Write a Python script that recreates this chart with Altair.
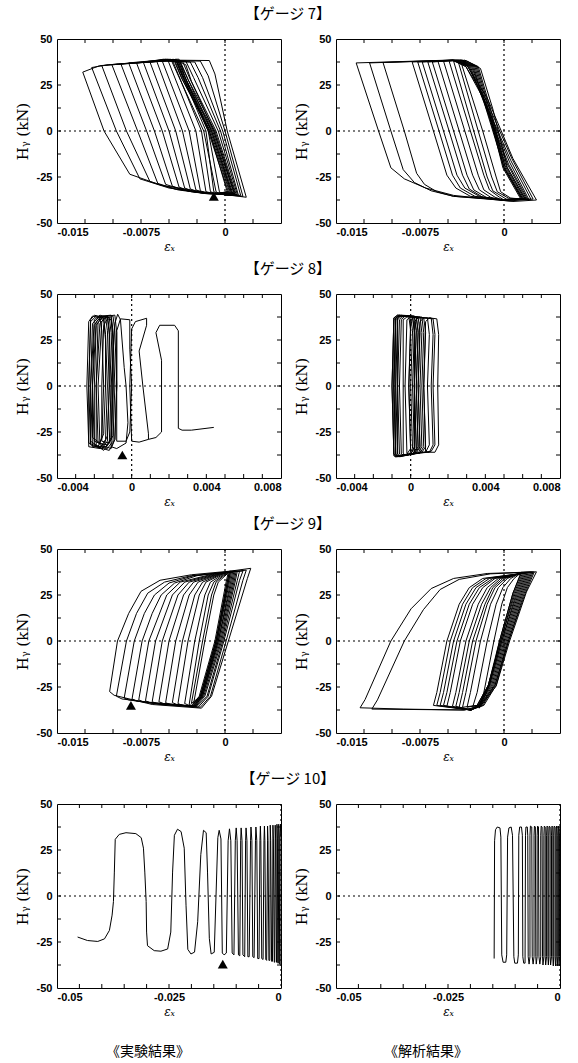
import altair as alt
import pandas as pd

# ---------------- data ----------------
# Gauge 7, experiment: loops as lists of (strain, Hy kN)
G7_EXP = [
    [(-0.0127, 32), (-0.0112, 35.5), (-0.0045, 38.5), (-0.0014, 38.3), (-0.0009, 31), (0.0002, 0), (0.0019, -36), (-0.0021, -33), (-0.0057, -29.5), (-0.0085, -23.5), (-0.0108, 0), (-0.0127, 32)],
    [(-0.0119, 34.5), (-0.0104, 36), (-0.0050, 38.3), (-0.0022, 38), (-0.0015, 30), (0.0000, 0), (0.0016, -35.5), (-0.0020, -33.5), (-0.0050, -31), (-0.0076, -26), (-0.0097, 0), (-0.0119, 34.5)],
    [(-0.0110, 35.5), (-0.0095, 36.5), (-0.0052, 38), (-0.0027, 37.5), (-0.0020, 29), (-0.0002, 0), (0.0014, -35), (-0.0020, -33.5), (-0.0045, -31.5), (-0.0067, -27.5), (-0.0088, 0), (-0.0110, 35.5)],
    [(-0.0101, 36), (-0.0090, 36.5), (-0.0055, 38), (-0.0031, 37.5), (-0.0024, 29), (-0.0004, 0), (0.0012, -35), (-0.0018, -34), (-0.0042, -32), (-0.0060, -28.5), (-0.0078, 0), (-0.0101, 36)],
    [(-0.0093, 36.5), (-0.0083, 37), (-0.0057, 38.5), (-0.0035, 38), (-0.0028, 29), (-0.0006, 0), (0.0011, -34.5), (-0.0017, -34), (-0.0038, -32), (-0.0053, -29), (-0.0070, 0), (-0.0093, 36.5)],
    [(-0.0086, 37), (-0.0077, 37.5), (-0.0058, 38.5), (-0.0038, 38), (-0.0031, 28), (-0.0008, 0), (0.0010, -34.5), (-0.0016, -34), (-0.0034, -32.5), (-0.0047, -30), (-0.0063, 0), (-0.0086, 37)],
    [(-0.0079, 37), (-0.0071, 37.5), (-0.0056, 38.5), (-0.0040, 38), (-0.0033, 28), (-0.0009, 0), (0.0009, -34), (-0.0015, -34), (-0.0030, -33), (-0.0041, -30.5), (-0.0056, 0), (-0.0079, 37)],
    [(-0.0073, 37.5), (-0.0066, 38), (-0.0055, 39), (-0.0042, 38.5), (-0.0035, 28), (-0.0010, 0), (0.0008, -34), (-0.0014, -34), (-0.0027, -33), (-0.0036, -31), (-0.0050, 0), (-0.0073, 37.5)],
    [(-0.0067, 37.5), (-0.0061, 38), (-0.0053, 39), (-0.0043, 38.5), (-0.0036, 28), (-0.0011, 0), (0.0007, -34), (-0.0013, -34), (-0.0024, -33), (-0.0031, -31.5), (-0.0044, 0), (-0.0067, 37.5)],
    [(-0.0061, 38), (-0.0056, 38.5), (-0.0051, 39), (-0.0044, 38.5), (-0.0037, 28), (-0.0012, 0), (0.0006, -33.5), (-0.0012, -34), (-0.0021, -33), (-0.0026, -32), (-0.0038, 0), (-0.0061, 38)],
    [(-0.0056, 38), (-0.0049, 39), (-0.0045, 38.5), (-0.0038, 28), (-0.0013, 0), (0.0005, -33.5), (-0.0011, -34), (-0.0018, -33.5), (-0.0022, -32.5), (-0.0032, 0), (-0.0056, 38)],
    [(-0.0051, 38.5), (-0.0046, 39), (-0.0039, 29), (-0.0014, 0), (0.0004, -33), (-0.0010, -34), (-0.0017, -33), (-0.0026, 0), (-0.0051, 38.5)],
    [(-0.0048, 38.5), (-0.0040, 37), (-0.0033, 28), (-0.0012, 0), (0.0006, -34), (-0.0004, -34.5), (-0.0008, -33), (-0.0019, 0), (-0.0048, 38.5)],
    [(-0.0047, 38.5), (-0.0044, 39), (-0.0038, 30), (-0.0015, 0), (0.0003, -33), (-0.0008, -34), (-0.0013, -33), (-0.0021, 0), (-0.0047, 38.5)],
    [(-0.0044, 39), (-0.0041, 39), (-0.0036, 30), (-0.0014, 0), (0.0002, -33), (-0.0006, -34), (-0.0010, -33), (-0.0017, 0), (-0.0044, 39)],
    [(-0.0042, 38), (-0.0035, 36), (-0.0030, 27), (-0.0010, 0), (0.0009, -35), (0.0000, -35), (-0.0005, -33), (-0.0015, 0), (-0.0042, 38)],
]

# Gauge 7, analysis
G7_ANA = [
    [(-0.0132, 37), (-0.0045, 38.6), (-0.0033, 35.5), (-0.0015, 18), (0.0008, -15), (0.0029, -37.5), (0.0008, -38.3), (-0.0045, -35), (-0.0070, -31), (-0.0089, -26), (-0.0101, -20), (-0.0112, 0), (-0.0132, 37)],
    [(-0.0120, 37), (-0.0046, 38.5), (-0.0034, 35), (-0.0016, 17), (0.0007, -15), (0.0026, -37), (0.0005, -38), (-0.0045, -35.5), (-0.0065, -32.5), (-0.0080, -28), (-0.0090, -21), (-0.0101, 0), (-0.0120, 37)],
    [(-0.0108, 37.2), (-0.0046, 38.5), (-0.0034, 35), (-0.0017, 16), (0.0006, -16), (0.0024, -37), (0.0003, -37.5), (-0.0045, -35.5), (-0.0060, -33), (-0.0071, -29), (-0.0078, -23), (-0.0089, 0), (-0.0108, 37.2)],
    [(-0.0082, 37.5), (-0.0045, 38.5), (-0.0032, 35), (-0.0017, 16), (0.0005, -17), (0.0022, -37), (0.0001, -37.5), (-0.0030, -35.5), (-0.0043, -31), (-0.0051, -24), (-0.0063, 0), (-0.0082, 37.5)],
    [(-0.0077, 37.5), (-0.0044, 38.5), (-0.0031, 35), (-0.0017, 15), (0.0004, -18), (0.0021, -37), (0.0000, -37.5), (-0.0026, -35.5), (-0.0039, -31), (-0.0046, -24), (-0.0058, 0), (-0.0077, 37.5)],
    [(-0.0073, 37.5), (-0.0043, 38.5), (-0.0030, 35), (-0.0017, 14), (0.0003, -18), (0.0020, -37), (-0.0001, -37.5), (-0.0022, -35.5), (-0.0035, -31), (-0.0042, -24), (-0.0054, 0), (-0.0073, 37.5)],
    [(-0.0068, 37.5), (-0.0042, 38.5), (-0.0029, 35), (-0.0016, 14), (0.0002, -19), (0.0019, -37), (-0.0002, -37.5), (-0.0019, -36), (-0.0031, -31.5), (-0.0037, -24), (-0.0049, 0), (-0.0068, 37.5)],
    [(-0.0064, 37.5), (-0.0041, 38.5), (-0.0028, 35), (-0.0016, 13), (0.0001, -19), (0.0018, -37), (-0.0003, -37.5), (-0.0016, -36), (-0.0027, -32), (-0.0033, -24), (-0.0045, 0), (-0.0064, 37.5)],
    [(-0.0059, 38), (-0.0040, 38.5), (-0.0027, 35), (-0.0016, 12), (0.0000, -20), (0.0017, -37), (-0.0002, -37.5), (-0.0012, -36), (-0.0022, -32), (-0.0028, -24), (-0.0040, 0), (-0.0059, 38)],
    [(-0.0054, 38), (-0.0039, 38.5), (-0.0026, 35), (-0.0015, 12), (0.0000, -20), (0.0016, -37), (-0.0001, -37.5), (-0.0008, -36), (-0.0018, -32), (-0.0023, -24), (-0.0035, 0), (-0.0054, 38)],
    [(-0.0049, 38), (-0.0038, 38.5), (-0.0025, 35), (-0.0014, 12), (-0.0001, -20), (0.0015, -37), (0.0000, -37.5), (-0.0004, -36), (-0.0013, -32), (-0.0018, -24), (-0.0030, 0), (-0.0049, 38)],
    [(-0.0045, 38), (-0.0037, 38.5), (-0.0024, 35), (-0.0013, 12), (0.0000, -20), (0.0016, -37), (0.0002, -37), (-0.0010, -32.5), (-0.0015, -25), (-0.0027, 0), (-0.0045, 38)],
    [(-0.0041, 38), (-0.0035, 38.5), (-0.0023, 35), (-0.0012, 12), (0.0001, -20), (0.0017, -37), (0.0004, -36.5), (-0.0006, -33), (-0.0011, -25), (-0.0023, 0), (-0.0041, 38)],
    [(-0.0039, 38.5), (-0.0033, 38), (-0.0021, 34), (-0.0010, 12), (0.0003, -20), (0.0019, -37), (0.0006, -36.5), (-0.0003, -33), (-0.0007, -25), (-0.0019, 0), (-0.0039, 38.5)],
]

# Gauge 8, experiment
G8_EXP = [
    [(-0.0023, -31), (-0.0024, 0), (-0.0023, 35), (-0.0021, 38), (-0.0017, 37), (-0.0016, 30), (-0.0015, 0), (-0.0016, -28), (-0.0018, -33), (-0.0023, -31)],
    [(-0.0023, -33), (-0.0023, 0), (-0.0022, 36), (-0.0020, 38.5), (-0.0015, 37), (-0.0014, 28), (-0.0013, 0), (-0.0014, -29), (-0.0017, -34), (-0.0023, -33)],
    [(-0.0022, -32), (-0.0023, 0), (-0.0022, 35), (-0.0019, 38), (-0.0014, 37.5), (-0.0013, 30), (-0.0012, 0), (-0.0013, -30), (-0.0016, -34), (-0.0022, -32)],
    [(-0.0022, -30), (-0.0022, 0), (-0.0021, 34), (-0.0018, 37), (-0.0013, 38), (-0.0012, 31), (-0.0011, 0), (-0.0012, -31), (-0.0015, -35), (-0.0022, -30)],
    [(-0.0021, -33), (-0.0022, 0), (-0.0020, 36), (-0.0017, 38.5), (-0.0012, 37), (-0.0011, 29), (-0.0010, 0), (-0.0011, -29), (-0.0014, -33), (-0.0021, -33)],
    [(-0.0021, -28), (-0.0021, 0), (-0.0020, 33), (-0.0018, 36), (-0.0015, 36.5), (-0.0014, 25), (-0.0014, 0), (-0.0015, -26), (-0.0017, -31), (-0.0021, -28)],
    [(-0.0020, -32), (-0.0021, 0), (-0.0019, 35), (-0.0016, 38), (-0.0011, 38.5), (-0.0010, 30), (-0.0009, 0), (-0.0010, -30), (-0.0013, -34), (-0.0020, -32)],
    [(-0.0020, -30), (-0.0020, 0), (-0.0019, 33), (-0.0016, 37), (-0.0013, 37), (-0.0012, 28), (-0.0012, 0), (-0.0013, -27), (-0.0015, -32), (-0.0020, -30)],
    [(-0.0019, -33), (-0.0019, 0), (-0.0018, 35), (-0.0015, 38), (-0.0010, 38), (-0.0009, 30), (-0.0008, 0), (-0.0009, -29), (-0.0012, -35), (-0.0019, -33)],
    [(-0.0018, -31), (-0.0019, 0), (-0.0017, 34), (-0.0014, 37.5), (-0.0011, 37), (-0.0010, 27), (-0.0010, 0), (-0.0011, -28), (-0.0013, -32), (-0.0018, -31)],
    [(-0.0017, -32), (-0.0018, 0), (-0.0016, 35), (-0.0013, 38), (-0.0009, 38.5), (-0.0008, 29), (-0.0008, 0), (-0.0009, -29), (-0.0011, -34), (-0.0017, -32)],
    [(-0.0016, -30), (-0.0016, 0), (-0.0015, 33), (-0.0013, 36.5), (-0.0011, 36), (-0.0010, 25), (-0.0010, 0), (-0.0010, -27), (-0.0012, -31), (-0.0016, -30)],
    [(-0.0011, -33), (-0.0011, 0), (-0.0009, 34), (-0.00075, 39), (-0.0006, 36), (-0.0004, 10), (-0.0003, 0), (-0.0002, -20), (-0.0003, -31), (-0.0008, -34), (-0.0011, -33)],
    [(-0.0008, -30), (-0.0008, 0), (-0.0008, 30), (-0.0006, 36.5), (-0.0001, 36), (-0.0001, 20), (0.0000, 0), (-0.0001, -25), (-0.0003, -30), (-0.0008, -30)],
    [(0.0000, -30), (-0.0001, 0), (0.0000, 31), (0.0002, 35), (0.0008, 36.8), (0.0008, 33), (0.0004, 19), (0.0006, 0), (0.0009, -26), (0.0009, -29), (0.0004, -30.5), (0.0000, -30)],
    [(0.0009, -29), (0.0013, -28), (0.0016, -25), (0.0016, 0), (0.0016, 14), (0.0013, 29), (0.0015, 33), (0.0023, 33), (0.0025, 30), (0.0025, 0), (0.0025, -23), (0.0027, -24), (0.0032, -24), (0.0044, -22.5)],
]

# Gauge 8, analysis
G8_ANA = [
    [(-0.0009, -37), (-0.0010, 0), (-0.0009, 37), (-0.0007, 38.5), (-0.0001, 38), (0.0000, 30), (-0.0001, 0), (0.0000, -34), (-0.0002, -37), (-0.0008, -38.5), (-0.0009, -37)],
    [(-0.0009, -38), (-0.0009, 0), (-0.0009, 37), (-0.0007, 38.5), (0.0000, 38), (0.0001, 30), (0.0000, 0), (0.0001, -34), (-0.0001, -37.5), (-0.0008, -38.5), (-0.0009, -38)],
    [(-0.0009, -37), (-0.0010, 0), (-0.0009, 36), (-0.0007, 38), (0.0001, 38), (0.0002, 30), (0.0001, 0), (0.0002, -34), (0.0000, -37), (-0.0008, -38), (-0.0009, -37)],
    [(-0.0008, -37), (-0.0009, 0), (-0.0008, 37), (-0.0006, 38.5), (0.0001, 37.5), (0.0002, 29), (0.0002, 0), (0.0002, -33), (0.0000, -37), (-0.0007, -38.5), (-0.0008, -37)],
    [(-0.0008, -38), (-0.0008, 0), (-0.0008, 37), (-0.0006, 38), (0.0002, 38), (0.0003, 30), (0.0002, 0), (0.0003, -34), (0.0001, -37), (-0.0007, -38), (-0.0008, -38)],
    [(-0.0008, -37), (-0.0009, 0), (-0.0008, 36), (-0.0006, 38), (0.0003, 37.5), (0.0004, 29), (0.0003, 0), (0.0004, -33), (0.0002, -36.5), (-0.0007, -38), (-0.0008, -37)],
    [(-0.0007, -37), (-0.0008, 0), (-0.0007, 37), (-0.0005, 38.5), (0.0002, 38), (0.0003, 30), (0.0002, 0), (0.0003, -34), (0.0001, -37), (-0.0006, -38.5), (-0.0007, -37)],
    [(-0.0007, -37), (-0.0007, 0), (-0.0007, 36), (-0.0005, 38), (0.0004, 37.5), (0.0005, 29), (0.0004, 0), (0.0005, -33), (0.0003, -36.5), (-0.0006, -38), (-0.0007, -37)],
    [(-0.0006, -37), (-0.0007, 0), (-0.0006, 36), (-0.0004, 38), (0.0003, 37.5), (0.0004, 30), (0.0003, 0), (0.0004, -34), (0.0002, -37), (-0.0005, -38), (-0.0006, -37)],
    [(-0.0005, -37), (-0.0006, 0), (-0.0005, 36), (-0.0003, 38), (0.0005, 37.5), (0.0006, 29), (0.0005, 0), (0.0006, -33), (0.0004, -36.5), (-0.0004, -37.5), (-0.0005, -37)],
    [(-0.0004, -36.5), (-0.0004, 0), (-0.0004, 36), (-0.0002, 37.5), (0.0006, 37.5), (0.0007, 29), (0.0006, 0), (0.0007, -33), (0.0005, -36.5), (-0.0003, -37.5), (-0.0004, -36.5)],
    [(-0.0002, -36.5), (-0.0003, 0), (-0.0002, 36), (0.0000, 37.5), (0.0007, 37), (0.0008, 29), (0.0007, 0), (0.0008, -33), (0.0006, -36), (-0.0001, -37), (-0.0002, -36.5)],
    [(0.0000, -36), (-0.0001, 0), (0.0000, 35.5), (0.0002, 37.5), (0.0009, 37), (0.0010, 28), (0.0009, 0), (0.0010, -32), (0.0008, -36), (0.0001, -37), (0.0000, -36)],
    [(0.0002, -36), (0.0002, 0), (0.0002, 35), (0.0004, 37), (0.0011, 37), (0.0012, 28), (0.0011, 0), (0.0012, -32), (0.0010, -36), (0.0003, -36.5), (0.0002, -36)],
    [(0.0005, -35.5), (0.0004, 0), (0.0005, 35), (0.0007, 37), (0.0012, 36.5), (0.0013, 28), (0.0012, 0), (0.0013, -32), (0.0011, -35.5), (0.0006, -36), (0.0005, -35.5)],
    [(0.0008, -35.5), (0.0007, 0), (0.0008, 35), (0.0010, 37), (0.0014, 36.5), (0.0015, 28), (0.00145, 0), (0.0015, -32), (0.0013, -36), (0.0009, -36), (0.0008, -35.5)],
]

# Gauge 9, experiment
G9_EXP = [
    [(-0.0103, -27.5), (-0.0096, 0), (-0.0086, 15), (-0.0075, 27), (-0.0058, 33), (-0.0030, 36), (0.0005, 38), (0.0023, 39.5), (0.0020, 34), (0.0003, 0), (-0.0012, -30), (-0.0021, -36.5), (-0.0065, -34.5), (-0.0099, -29.5), (-0.0103, -27.5)],
    [(-0.0097, -30), (-0.0088, 0), (-0.0079, 15), (-0.0069, 26), (-0.0054, 32), (-0.0030, 35.5), (0.0003, 37.5), (0.0019, 38.5), (0.0016, 33), (0.0001, 0), (-0.0013, -30), (-0.0022, -36), (-0.0060, -34), (-0.0092, -31.5), (-0.0097, -30)],
    [(-0.0090, -31), (-0.0081, 0), (-0.0072, 15), (-0.0063, 25), (-0.0050, 31.5), (-0.0028, 35.5), (0.0002, 37.5), (0.0016, 38), (0.0013, 33), (-0.0001, 0), (-0.0015, -30), (-0.0024, -36), (-0.0058, -34.5), (-0.0086, -32), (-0.0090, -31)],
    [(-0.0083, -31.5), (-0.0074, 0), (-0.0065, 15), (-0.0057, 25), (-0.0045, 31.5), (-0.0025, 35.5), (0.0001, 37.5), (0.0013, 38), (0.0011, 33), (-0.0002, 0), (-0.0016, -30), (-0.0025, -35.5), (-0.0055, -34.5), (-0.0079, -32.5), (-0.0083, -31.5)],
    [(-0.0077, -32), (-0.0068, 0), (-0.0052, 25), (-0.0040, 32), (-0.0010, 36.5), (0.0011, 38), (0.0009, 32), (-0.0003, 0), (-0.0018, -30), (-0.0026, -35.5), (-0.0073, -33), (-0.0077, -32)],
    [(-0.0071, -32.5), (-0.0062, 0), (-0.0047, 25), (-0.0036, 32), (-0.0008, 36.5), (0.0010, 38), (0.0008, 32), (-0.0004, 0), (-0.0019, -30), (-0.0027, -35.5), (-0.0067, -33.5), (-0.0071, -32.5)],
    [(-0.0065, -33), (-0.0056, 0), (-0.0042, 25), (-0.0032, 32), (-0.0006, 36.5), (0.0009, 38), (0.0007, 32), (-0.0005, 0), (-0.0020, -30), (-0.0027, -35.5), (-0.0061, -34), (-0.0065, -33)],
    [(-0.0059, -33), (-0.0050, 0), (-0.0037, 25), (-0.0028, 32), (-0.0005, 36.5), (0.0008, 38), (0.0006, 32), (-0.0006, 0), (-0.0020, -30), (-0.0028, -35.5), (-0.0055, -34), (-0.0059, -33)],
    [(-0.0053, -33.5), (-0.0044, 0), (-0.0032, 25), (-0.0024, 32), (-0.0004, 36.5), (0.0007, 38), (0.0005, 32), (-0.0006, 0), (-0.0021, -30), (-0.0028, -35.5), (-0.0049, -34.5), (-0.0053, -33.5)],
    [(-0.0047, -33.5), (-0.0038, 0), (-0.0027, 25), (-0.0020, 32), (-0.0003, 36.5), (0.0006, 38), (0.0004, 32), (-0.0007, 0), (-0.0021, -30), (-0.0029, -35.5), (-0.0043, -34.5), (-0.0047, -33.5)],
    [(-0.0042, -34), (-0.0033, 0), (-0.0023, 25), (-0.0017, 32), (-0.0002, 36.5), (0.0005, 38), (0.0003, 32), (-0.0007, 0), (-0.0021, -30), (-0.0029, -35.5), (-0.0038, -35), (-0.0042, -34)],
    [(-0.0036, -34), (-0.0027, 0), (-0.0018, 25), (-0.0013, 32), (-0.0001, 36.5), (0.0005, 38), (0.0003, 32), (-0.0008, 0), (-0.0022, -30), (-0.0030, -35.5), (-0.0036, -34)],
    [(-0.0032, -34.5), (-0.0023, 0), (-0.0015, 25), (-0.0010, 32), (0.0000, 36.5), (0.0004, 38), (0.0002, 32), (-0.0008, 0), (-0.0022, -30), (-0.0030, -35), (-0.0032, -34.5)],
    [(-0.0030, -34), (-0.0020, 0), (-0.0012, 25), (-0.0008, 32), (0.0001, 36.5), (0.0004, 37.5), (0.0002, 32), (-0.0008, 0), (-0.0022, -30), (-0.0030, -34)],
    [(-0.0028, -34), (-0.0018, 0), (-0.0010, 25), (-0.0006, 32), (0.0002, 36.5), (0.0003, 37.5), (0.0001, 32), (-0.0009, 0), (-0.0023, -30), (-0.0028, -34)],
]

# Gauge 9, analysis
G9_ANA = [
    [(-0.01285, -36.3), (-0.0124, -31.8), (-0.0101, 0), (-0.0083, 17.5), (-0.0065, 28.5), (-0.0045, 34), (-0.0015, 36.7), (0.0029, 37.6), (0.0020, 26.6), (0.0005, 0), (-0.0007, -24.5), (-0.0021, -35.4), (-0.0035, -37.5), (-0.0090, -37), (-0.01285, -36.3)],
    [(-0.0118, -37), (-0.0113, -32), (-0.0089, 0), (-0.0072, 17), (-0.0057, 28), (-0.0040, 33.5), (-0.0012, 36.5), (0.0027, 37.5), (0.0019, 26), (0.0004, 0), (-0.0008, -24), (-0.0022, -35.5), (-0.0036, -37.5), (-0.0118, -37)],
    [(-0.0063, -35), (-0.0060, -28), (-0.0051, 0), (-0.0040, 20), (-0.0031, 29), (-0.0019, 34), (0.0026, 37.5), (0.0018, 26), (0.0004, 0), (-0.0007, -24), (-0.0018, -35), (-0.0030, -37.5), (-0.0063, -35)],
    [(-0.0060, -35), (-0.0057, -28), (-0.0048, 0), (-0.0037, 20), (-0.0028, 29), (-0.0016, 34), (0.0025, 37.5), (0.0017, 26), (0.0003, 0), (-0.0008, -24), (-0.0019, -35), (-0.0030, -37.5), (-0.0060, -35)],
    [(-0.0057, -35), (-0.0054, -28), (-0.0045, 0), (-0.0034, 20), (-0.0025, 29), (-0.0013, 34), (0.0024, 37.5), (0.0016, 26), (0.0002, 0), (-0.0009, -24), (-0.0020, -35), (-0.0030, -37.5), (-0.0057, -35)],
    [(-0.0054, -35), (-0.0051, -28), (-0.0042, 0), (-0.0031, 20), (-0.0022, 29), (-0.0010, 34), (0.0023, 37.5), (0.0015, 26), (0.0001, 0), (-0.0010, -24), (-0.0021, -35), (-0.0030, -37.5), (-0.0054, -35)],
    [(-0.0051, -35.5), (-0.0048, -28), (-0.0039, 0), (-0.0028, 20), (-0.0019, 29), (-0.0008, 34), (0.0022, 37.5), (0.0014, 26), (0.0000, 0), (-0.0011, -24), (-0.0022, -35), (-0.0030, -37.5), (-0.0051, -35.5)],
    [(-0.0046, -35.5), (-0.0043, -28), (-0.0034, 0), (-0.0023, 20), (-0.0015, 29), (-0.0005, 34), (0.0021, 37.5), (0.0013, 26), (-0.0001, 0), (-0.0012, -24), (-0.0022, -35), (-0.0029, -37.5), (-0.0046, -35.5)],
    [(-0.0043, -35.5), (-0.0040, -28), (-0.0031, 0), (-0.0020, 20), (-0.0012, 29), (-0.0003, 34), (0.0020, 37.5), (0.0012, 26), (-0.0002, 0), (-0.0013, -24), (-0.0023, -35), (-0.0029, -37.5), (-0.0043, -35.5)],
    [(-0.0040, -36), (-0.0037, -28), (-0.0028, 0), (-0.0017, 20), (-0.0010, 29), (-0.0001, 34), (0.0019, 37.5), (0.0011, 26), (-0.0002, 0), (-0.0013, -24), (-0.0023, -35), (-0.0029, -37.5), (-0.0040, -36)],
    [(-0.0037, -36), (-0.0034, -28), (-0.0025, 0), (-0.0015, 20), (-0.0008, 29), (0.0001, 34), (0.0018, 37.5), (0.0010, 26), (-0.0003, 0), (-0.0014, -24), (-0.0024, -35), (-0.0037, -36)],
    [(-0.0033, -36), (-0.0030, -28), (-0.0021, 0), (-0.0012, 20), (-0.0005, 29), (0.0003, 34), (0.0017, 37.5), (0.0009, 26), (-0.0003, 0), (-0.0014, -24), (-0.0024, -35), (-0.0033, -36)],
    [(-0.0028, -36), (-0.0024, -28), (-0.0015, 0), (-0.0007, 20), (-0.0001, 29), (0.0006, 34), (0.0016, 37.5), (0.0008, 26), (-0.0004, 0), (-0.0014, -24), (-0.0022, -35), (-0.0028, -36)],
    [(-0.0022, -36.5), (-0.0018, -28), (-0.0009, 0), (-0.0002, 20), (0.0003, 29), (0.0009, 34), (0.0015, 37), (0.0008, 26), (-0.0004, 0), (-0.0013, -24), (-0.0022, -36.5)],
]

# Gauge 10, experiment: one continuous path
G10_EXP = [[
    (-0.0454, -22.3), (-0.0432, -24.2), (-0.0409, -24.7), (-0.0394, -23.3), (-0.0383, -18.7), (-0.0377, -10.4),
    (-0.0374, -3), (-0.0372, 13), (-0.0370, 30.8), (-0.0361, 33.5), (-0.0346, 34.4), (-0.0324, 33.9),
    (-0.0312, 31.7), (-0.0307, 26), (-0.0304, 13), (-0.0301, -3), (-0.0300, -19.6), (-0.0298, -27),
    (-0.0283, -29.7), (-0.0268, -30), (-0.0253, -28.8), (-0.0246, -19.6), (-0.0242, 13), (-0.0238, 33),
    (-0.0231, 36.3), (-0.0223, 35), (-0.0216, 26), (-0.0212, -5), (-0.0208, -29), (-0.0201, -31.5),
    (-0.0193, -30.5), (-0.0186, -14), (-0.0179, 22.5), (-0.0173, 35.7), (-0.0167, 34.4), (-0.0164, 13),
    (-0.0160, -23), (-0.0156, -31.5), (-0.0149, -30.6), (-0.0141, 31.7), (-0.0138, 35.7), (-0.0134, 31),
    (-0.0131, -31), (-0.0127, -32), (-0.0122, -31), (-0.0118, 30), (-0.0115, 36.5), (-0.0112, 30),
    (-0.0109, -31), (-0.0105, -32), (-0.0102, 30), (-0.0100, 37), (-0.0098, 30), (-0.0095, -32),
    (-0.0092, -32.5), (-0.0090, 30), (-0.0089, 37), (-0.0087, 30), (-0.0085, -32), (-0.0081, -33),
    (-0.0079, 30), (-0.0078, 37), (-0.0076, 30), (-0.0074, -33), (-0.0071, -33), (-0.0068, 30),
    (-0.0067, 37.5), (-0.0065, 30), (-0.0063, -33), (-0.0060, -33.5), (-0.0057, 30), (-0.0056, 37.5),
    (-0.0054, 30), (-0.0052, -34), (-0.0049, -34), (-0.0047, 30), (-0.0046, 38), (-0.0045, 30),
    (-0.0043, -34), (-0.0040, -34.5), (-0.0038, 30), (-0.0037, 38), (-0.0036, 30), (-0.0034, -34.5),
    (-0.0032, -35), (-0.0030, 30), (-0.0030, 38), (-0.0029, 30), (-0.0027, -35), (-0.0025, -35),
    (-0.0024, 30), (-0.0024, 38.5), (-0.0023, 30), (-0.0021, -35.5), (-0.0019, -35.5), (-0.0018, 31),
    (-0.0018, 38.5), (-0.0017, 31), (-0.0015, -36), (-0.0014, -36), (-0.0013, 31), (-0.0013, 38.5),
    (-0.0012, 31), (-0.0010, -36), (-0.0009, -36), (-0.0009, 31), (-0.0009, 39), (-0.0008, 31),
    (-0.0007, -36.5), (-0.0006, -36.5), (-0.0005, 31), (-0.0005, 39), (-0.0004, 31), (-0.0003, -37),
    (-0.0002, -37), (-0.0002, 32), (-0.0001, 39), (0.0000, 32),
]]

# Gauge 10, analysis: one continuous path
G10_ANA = [[
    (-0.0147, -34), (-0.0146, 30), (-0.0144, 36), (-0.0140, 37.5), (-0.0134, 37), (-0.0132, 32),
    (-0.0130, -32), (-0.0127, -36), (-0.0121, -36), (-0.0119, -32), (-0.0117, 32), (-0.0114, 37),
    (-0.0109, 37.5), (-0.0106, 33), (-0.0103, -33), (-0.0101, -36.5), (-0.0095, -36.5), (-0.0093, -32),
    (-0.0092, 33), (-0.0090, 37.5), (-0.0086, 37.5), (-0.0084, 33), (-0.0083, -33), (-0.0081, -36.5),
    (-0.0078, -36.5), (-0.0077, 33), (-0.0076, 37.5), (-0.0073, 37.5), (-0.0072, 33), (-0.0071, -33),
    (-0.0069, -37), (-0.0067, -33), (-0.0067, 33), (-0.0066, 38), (-0.0063, 37.5), (-0.0062, -33),
    (-0.0060, -37), (-0.0058, -33), (-0.0058, 33), (-0.0057, 38), (-0.0055, 37.5), (-0.0054, -33),
    (-0.0053, -37), (-0.0051, -33), (-0.0051, 33), (-0.0050, 38), (-0.0048, 37.5), (-0.0047, -33),
    (-0.0045, -37), (-0.0043, -33), (-0.0043, 33), (-0.0042, 38), (-0.0040, 37.5), (-0.0039, -33),
    (-0.0038, -37.5), (-0.0036, -33), (-0.0036, 33), (-0.0035, 38), (-0.0033, 37.5), (-0.0033, -33),
    (-0.0032, -37.5), (-0.0030, -33), (-0.0030, 33), (-0.0029, 38), (-0.0027, 37.5), (-0.0027, -33),
    (-0.0026, -37.5), (-0.0025, -33), (-0.0025, 33), (-0.0024, 38), (-0.0022, 37.5), (-0.0022, -33),
    (-0.0021, -37.5), (-0.0019, -33), (-0.0019, 33), (-0.0018, 38), (-0.0016, 37.5), (-0.0016, -33),
    (-0.0015, -38), (-0.0014, -33), (-0.0014, 33), (-0.0013, 38), (-0.0011, 37.5), (-0.0011, -33),
    (-0.0010, -38), (-0.0009, -33), (-0.0009, 33), (-0.0008, 38), (-0.0007, 37.5), (-0.0007, -33),
    (-0.0006, -38), (-0.0005, -33), (-0.0005, 33), (-0.0004, 38), (-0.0003, 37.5), (-0.0003, -33),
    (-0.0002, -38), (-0.0001, -33), (-0.0001, 33), (0.0000, 38),
]]

# triangle markers (experiment panels)
TRI_G7 = (-0.0010, -35.5)
TRI_G8 = (-0.0005, -37.5)
TRI_G9 = (-0.0084, -35)
TRI_G10 = (-0.0130, -37)

# axes
X_DOM_7 = [-0.015, 0.005]
X_LAB_7 = [-0.015, -0.0075, 0]
X_MIN_7 = [-0.0125, -0.01, -0.0075, -0.005, -0.0025, 0, 0.0025]
X_DOM_8 = [-0.004, 0.008]
X_LAB_8 = [-0.004, 0, 0.004, 0.008]
X_MIN_8 = [-0.003, -0.002, -0.001, 0, 0.001, 0.002, 0.003, 0.004, 0.005, 0.006, 0.007]
X_DOM_10 = [-0.05, 0]
X_LAB_10 = [-0.05, -0.025, 0]
X_MIN_10 = [-0.045, -0.04, -0.035, -0.03, -0.025, -0.02, -0.015, -0.01, -0.005]
Y_LAB = [-50, -25, 0, 25, 50]
Y_MIN = [-37.5, -25, -12.5, 0, 12.5, 25, 37.5]

TITLES = ["【ゲージ 7】", "【ゲージ 8】", "【ゲージ 9】", "【ゲージ 10】"]
FOOT = ["《実験結果》", "《解析結果》"]

W, H = 224, 184


def loops_df(loops):
    rows = []
    for k, lp in enumerate(loops):
        for i, (x, y) in enumerate(lp):
            rows.append({"loop": k, "i": i, "x": x, "y": y})
    return pd.DataFrame(rows)


def panel(loops, xdom, xlab, xminor, tri=None):
    xs = alt.Scale(domain=xdom, nice=False, zero=False)
    ys = alt.Scale(domain=[-50, 50], nice=False, zero=False)
    xax = alt.Axis(values=xlab, ticks=False, domain=False, grid=False,
                   labelExpr="'' + datum.value", labelPadding=3,
                   title="εₓ", titleFont="DejaVu Serif", titleFontStyle="italic",
                   titleFontWeight="normal", titleFontSize=12, titlePadding=4)
    yax = alt.Axis(values=Y_LAB, ticks=False, domain=False, grid=False,
                   labelExpr="'' + datum.value", labelPadding=5,
                   title="Hᵧ (kN)", titleFont="DejaVu Serif",
                   titleFontWeight="normal", titleFontSize=15, titlePadding=6)

    def X(f):
        return alt.X(f, type="quantitative", scale=xs, axis=xax)

    def Y(f):
        return alt.Y(f, type="quantitative", scale=ys, axis=yax)

    lines = alt.Chart(loops_df(loops)).mark_line(
        color="black", strokeWidth=1.0, clip=True
    ).encode(x=X("x"), y=Y("y"), detail="loop:N", order="i:Q")

    vz = alt.Chart(pd.DataFrame({"x": [0.0]})).mark_rule(
        color="black", strokeDash=[2, 3], strokeWidth=1.2
    ).encode(x=X("x"))
    hz = alt.Chart(pd.DataFrame({"y": [0.0]})).mark_rule(
        color="black", strokeDash=[2, 3], strokeWidth=1.2
    ).encode(y=Y("y"))

    xt = pd.DataFrame({"x": xminor})
    yt = pd.DataFrame({"y": Y_MIN})
    tb = alt.Chart(xt).mark_rule(color="black").encode(x=X("x"), y=alt.value(H), y2=alt.value(H - 4))
    tt = alt.Chart(xt).mark_rule(color="black").encode(x=X("x"), y=alt.value(0), y2=alt.value(4))
    tl = alt.Chart(yt).mark_rule(color="black").encode(y=Y("y"), x=alt.value(0), x2=alt.value(4))
    tr = alt.Chart(yt).mark_rule(color="black").encode(y=Y("y"), x=alt.value(W), x2=alt.value(W - 4))

    layers = [lines, vz, hz, tb, tt, tl, tr]
    if tri is not None:
        tdf = pd.DataFrame({"x": [tri[0]], "y": [tri[1]]})
        layers.append(
            alt.Chart(tdf).mark_point(shape="triangle-up", filled=True, color="black",
                                      size=100, opacity=1).encode(x=X("x"), y=Y("y"))
        )
    return alt.layer(*layers).properties(width=W, height=H)


def row(title, left, right):
    return alt.hconcat(left, right, spacing=10).properties(
        title=alt.TitleParams(title, anchor="middle", fontSize=15, font="Noto Sans CJK JP",
                              fontWeight="normal", color="black", offset=11)
    )


r1 = row(TITLES[0], panel(G7_EXP, X_DOM_7, X_LAB_7, X_MIN_7, TRI_G7), panel(G7_ANA, X_DOM_7, X_LAB_7, X_MIN_7))
r2 = row(TITLES[1], panel(G8_EXP, X_DOM_8, X_LAB_8, X_MIN_8, TRI_G8), panel(G8_ANA, X_DOM_8, X_LAB_8, X_MIN_8))
r3 = row(TITLES[2], panel(G9_EXP, X_DOM_7, X_LAB_7, X_MIN_7, TRI_G9), panel(G9_ANA, X_DOM_7, X_LAB_7, X_MIN_7))
r4 = row(TITLES[3], panel(G10_EXP, X_DOM_10, X_LAB_10, X_MIN_10, TRI_G10), panel(G10_ANA, X_DOM_10, X_LAB_10, X_MIN_10))

foot_df = pd.DataFrame({"t": FOOT})
foot = alt.layer(
    alt.Chart(foot_df).transform_filter(alt.datum.t == FOOT[0]).mark_text(
        font="Noto Sans CJK JP", fontSize=14, color="black"
    ).encode(text="t:N", x=alt.value(91), y=alt.value(26)),
    alt.Chart(foot_df).transform_filter(alt.datum.t == FOOT[1]).mark_text(
        font="Noto Sans CJK JP", fontSize=14, color="black"
    ).encode(text="t:N", x=alt.value(369), y=alt.value(26)),
).properties(width=440, height=34, view=alt.ViewBackground(stroke=None))

chart = alt.vconcat(r1, r2, r3, r4, foot, spacing=8).properties(
    padding={"left": 14, "right": 2, "top": 6, "bottom": 2},
    background="white",
).configure_view(stroke="black", strokeWidth=1).configure_axis(
    labelFont="Liberation Sans", labelFontWeight="bold", labelFontSize=11,
    labelColor="black", titleColor="black"
)

chart.save("out.html", embed_options={"renderer": "svg", "actions": False})
